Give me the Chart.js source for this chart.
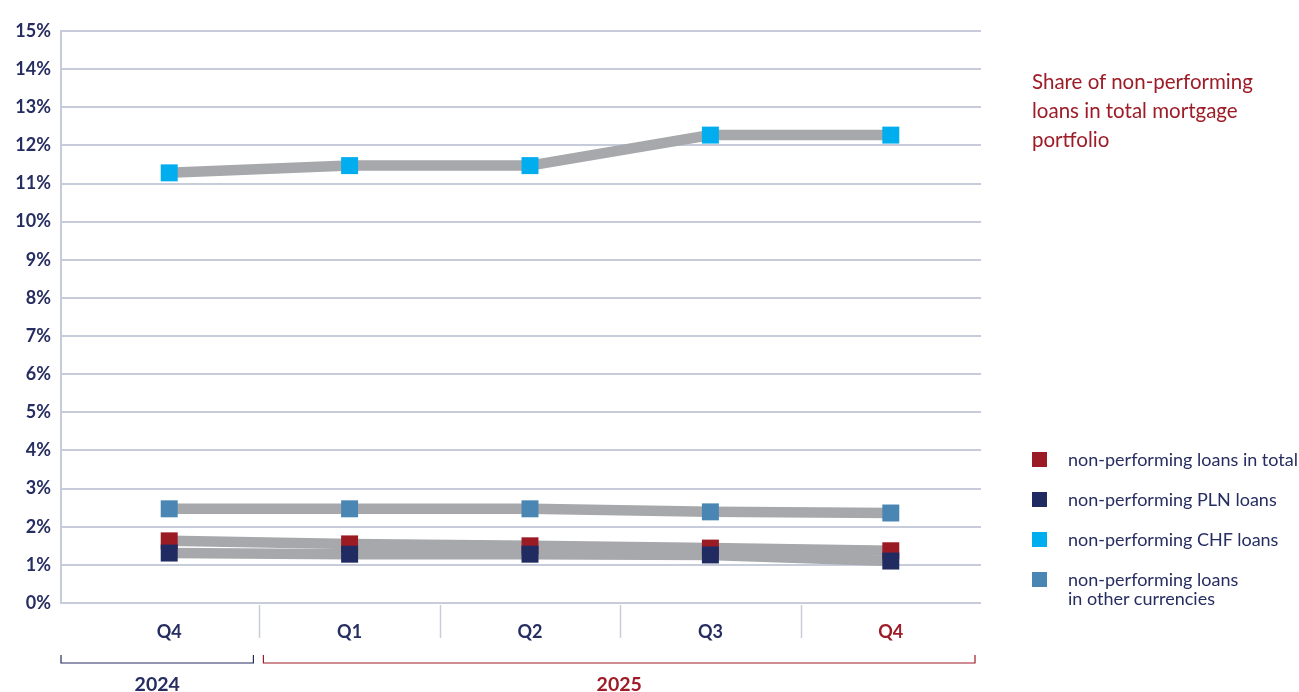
<!DOCTYPE html>
<html>
<head>
<meta charset="utf-8">
<script src="https://cdn.jsdelivr.net/npm/chart.js@4"></script>
<style>
  html, body { margin: 0; padding: 0; background: #fff; }
  #wrap { position: relative; width: 1299px; height: 692px; }
  #title { position: absolute; left: 1032px; top: 67px; font: 20.5px Lato, sans-serif; line-height: 29px; color: #9d1c27; }
  #legend { position: absolute; left: 1032px; top: 450px; font: 18px Lato, sans-serif; color: #262d60; }
  .row { position: relative; padding-left: 36px; line-height: 19px; height: 40px; }
  .sw { position: absolute; left: 0; top: 2px; width: 15px; height: 15px; }
</style>
</head>
<body>
<div id="wrap">
  <canvas id="nplChart" width="1299" height="692"></canvas>
  <div id="title">Share of non-performing<br>loans in total mortgage<br>portfolio</div>
  <div id="legend"></div>
</div>
<script>
// dane (%)
const quarters = ['Q4', 'Q1', 'Q2', 'Q3', 'Q4'];
const years = ['2024', '2025'];
const yearQuarterCount = [1, 4];
const totalNpl = [1.63, 1.55, 1.50, 1.44, 1.37];
const plnNpl = [1.31, 1.28, 1.28, 1.26, 1.10];
const chfNpl = [11.28, 11.47, 11.47, 12.27, 12.27];
const otherNpl = [2.47, 2.47, 2.47, 2.39, 2.36];
const yTicks = [0, 15];

const navy = '#262d60';
const red = '#9d1c27';
const lineGrey = '#a7a8ab';
const gridColor = '#c6ccda';
const gridLead = 18; // linie siatki wychodzą w lewo poza obszar kategorii

const seriesInfo = [
    { label: 'non-performing loans in total', data: totalNpl, color: '#9b1b25', order: 2 },
    { label: 'non-performing PLN loans', data: plnNpl, color: '#202b62', order: 1 },
    { label: 'non-performing CHF loans', data: chfNpl, color: '#00adee', order: 3 },
    { label: 'non-performing loans\nin other currencies', data: otherNpl, color: '#4a86b3', order: 4 }
];

// szare linie pod spodem, kwadratowe znaczniki na wierzchu
const lineSets = seriesInfo.map(s => ({
    label: s.label + ' line',
    data: s.data,
    borderColor: lineGrey,
    borderWidth: 10.5,
    pointRadius: 0,
    tension: 0,
    order: 10
}));
const markerSets = seriesInfo.map(s => ({
    label: s.label,
    data: s.data,
    showLine: false,
    pointStyle: 'rect',
    pointRadius: 12,
    pointHoverRadius: 12,
    backgroundColor: s.color,
    borderColor: s.color,
    borderWidth: 0,
    order: s.order
}));

const yearAxis = {
    id: 'yearAxis',
    beforeDatasetsDraw(chart) {
        // oś pionowa przy lewej krawędzi siatki
        const ctx = chart.ctx;
        const area = chart.chartArea;
        const ax = area.left - gridLead;
        ctx.save();
        ctx.strokeStyle = gridColor;
        ctx.lineWidth = 2;
        ctx.beginPath();
        ctx.moveTo(ax, area.top - 1);
        ctx.lineTo(ax, area.bottom + 1);
        ctx.stroke();
        ctx.restore();
    },
    afterDraw(chart) {
        const ctx = chart.ctx;
        const x = chart.scales.x;
        const area = chart.chartArea;
        const step = x.getPixelForValue(1) - x.getPixelForValue(0);
        ctx.save();
        // separatory kwartałów
        ctx.strokeStyle = '#c9cdd6';
        ctx.lineWidth = 1.5;
        for (let i = 1; i < quarters.length; i++) {
            const px = Math.round(x.getPixelForValue(i) - step / 2) + 0.5;
            ctx.beginPath();
            ctx.moveTo(px, area.bottom + 2);
            ctx.lineTo(px, area.bottom + 35);
            ctx.stroke();
        }
        // nawiasy lat
        let start = 0;
        years.forEach((yr, k) => {
            const end = start + yearQuarterCount[k] - 1;
            let x0 = x.getPixelForValue(start) - step / 2;
            let x1 = x.getPixelForValue(end) + step / 2;
            if (k === 0) x0 = area.left - gridLead;
            if (k > 0) x0 += 4;
            x1 -= 6;
            const col = k === 0 ? navy : red;
            const yb = area.bottom + 60;
            ctx.strokeStyle = col;
            ctx.lineWidth = 1.2;
            ctx.beginPath();
            ctx.moveTo(x0, yb - 8);
            ctx.lineTo(x0, yb);
            ctx.lineTo(x1, yb);
            ctx.lineTo(x1, yb - 8);
            ctx.stroke();
            ctx.fillStyle = col;
            ctx.font = 'bold 19.5px Lato';
            ctx.textAlign = 'center';
            ctx.textBaseline = 'middle';
            ctx.fillText(yr, (x0 + x1) / 2, area.bottom + 82);
            start = end + 1;
        });
        ctx.restore();
    }
};

new Chart(document.getElementById('nplChart'), {
    type: 'line',
    data: {
        labels: quarters,
        datasets: [...lineSets, ...markerSets]
    },
    options: {
        responsive: false,
        animation: false,
        layout: { padding: { left: 0, top: 31, right: 318, bottom: 0 } },
        plugins: {
            legend: { display: false },
            tooltip: { enabled: false }
        },
        scales: {
            x: {
                offset: true,
                grid: { display: false },
                border: { display: false },
                ticks: {
                    padding: 10,
                    color: ctx => ctx.index === quarters.length - 1 ? red : navy,
                    font: { family: 'Lato', size: 18, weight: 'bold' }
                },
                afterFit: scale => { scale.height = 89; }
            },
            y: {
                min: yTicks[0],
                max: yTicks[1],
                ticks: {
                    stepSize: 1,
                    padding: 10,
                    color: navy,
                    font: { family: 'Lato', size: 18, weight: 'bold' },
                    callback: v => v + '%'
                },
                grid: { color: gridColor, lineWidth: 2, drawTicks: true, tickLength: gridLead, tickColor: gridColor },
                border: { display: false },
                afterFit: scale => { scale.width = 61 + gridLead; }
            }
        }
    },
    plugins: [yearAxis]
});

// legenda HTML
const legend = document.getElementById('legend');
seriesInfo.forEach(s => {
    const row = document.createElement('div');
    row.className = 'row';
    row.innerHTML = '<span class="sw" style="background:' + s.color + '"></span>' + s.label.replace('\n', '<br>');
    legend.appendChild(row);
});
</script>
</body>
</html>
